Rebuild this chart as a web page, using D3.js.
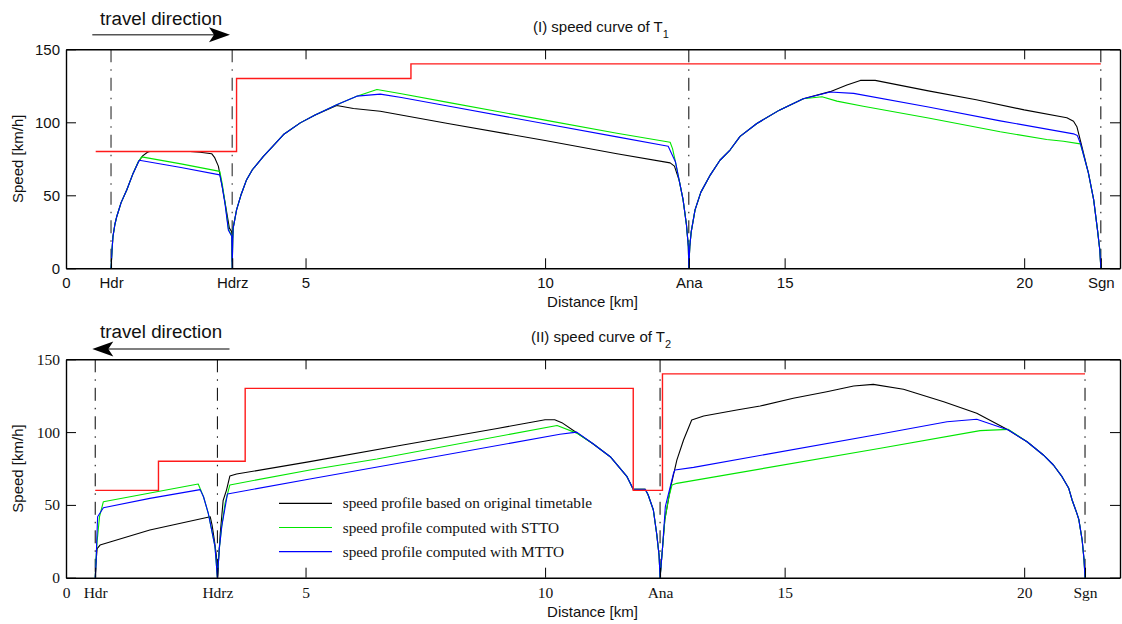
<!DOCTYPE html>
<html>
<head>
<meta charset="utf-8">
<script src="https://cdn.jsdelivr.net/npm/d3@7"></script>
<style>
  body { margin: 0; background: #fff; }
  svg { display: block; }
</style>
</head>
<body>
<svg id="chart" width="1122" height="624"></svg>
<script>
// ---------- data (distance in km, speed in km/h) ----------
const legendLabels = [
  "speed profile based on original timetable",
  "speed profile computed with STTO",
  "speed profile computed with MTTO"
];

const tickLabels = ["0", "Hdr", "Hdrz", "5", "10", "Ana", "15", "20", "Sgn"];
const tickValuesT1 = [0, 0.94, 3.47, 5, 10, 13.0, 15, 20, 21.6];
const tickValuesT2 = [0, 0.61, 3.16, 5, 10, 12.4, 15, 20, 21.27];
const speedTicks = [0, 50, 100, 150];

// speed limits, as step breakpoints [start km, limit]
const limitT1 = [[0.62, 80], [3.56, 130], [7.2, 140], [21.6, 140]];
const limitT2 = [[0.61, 60], [1.93, 80], [3.74, 130], [11.84, 60], [12.45, 140], [21.27, 140]];

// (I) T1
const originalT1 = [
  [0.94, 0], [0.96, 12], [0.98, 21.7], [1.02, 30], [1.06, 35.5], [1.15, 45], [1.27, 53.8], [1.4, 65],
  [1.51, 73], [1.6, 77], [1.7, 79.5], [1.75, 80], [2.59, 80], [2.8, 79.5], [3.04, 78.5], [3.1, 76],
  [3.18, 70], [3.25, 58], [3.32, 45], [3.41, 27.5], [3.46, 25], [3.47, 0],
  [3.48, 20], [3.49, 27.7], [3.56, 40], [3.65, 50], [3.77, 60.7], [3.89, 67.5], [4.12, 76.7], [4.3, 83],
  [4.54, 91.6], [4.89, 99.6], [5.2, 105], [5.65, 111.5], [6.0, 109.5], [6.56, 107.6], [8, 99],
  [10, 87.5], [11.5, 78.5], [12.61, 72.2], [12.7, 70], [12.8, 60], [12.88, 47], [12.95, 30],
  [12.99, 15], [13.0, 0],
  [13.02, 15], [13.05, 25], [13.13, 40], [13.25, 52], [13.45, 64], [13.65, 74], [13.86, 81],
  [14.07, 90.4], [14.42, 99.2], [14.9, 108.5], [15.39, 116.1], [15.95, 121], [16.3, 125.5],
  [16.58, 128.7], [16.89, 128.7], [18, 121.5], [19, 115.5], [20, 108.5], [20.89, 103.1],
  [21.03, 100.7], [21.1, 97], [21.2, 84], [21.34, 65.3], [21.45, 47], [21.53, 26.3], [21.58, 12], [21.6, 0]
];
const sttoT1 = [
  [0.94, 0], [0.96, 12], [0.98, 21.7], [1.02, 30], [1.06, 35.5], [1.15, 45], [1.27, 53.8], [1.4, 65],
  [1.51, 73], [1.58, 76.3], [2.4, 71.5], [3.21, 66.4], [3.26, 58], [3.32, 45], [3.39, 27], [3.46, 22], [3.47, 0],
  [3.48, 20], [3.49, 27.7], [3.56, 40], [3.65, 50], [3.77, 60.7], [3.89, 67.5], [4.12, 76.7], [4.3, 83],
  [4.54, 91.6], [4.89, 99.6], [5.2, 105], [5.65, 112], [6.07, 117.9], [6.49, 122.5], [7, 119.5],
  [8, 113.5], [10, 101.5], [11.5, 92.5], [12.61, 86.3], [12.66, 82], [12.72, 73], [12.8, 60],
  [12.88, 47], [12.95, 30], [12.99, 15], [13.0, 0],
  [13.02, 15], [13.05, 25], [13.13, 40], [13.25, 52], [13.45, 64], [13.65, 74], [13.86, 81],
  [14.07, 90.4], [14.42, 99.2], [14.9, 108.5], [15.39, 116.1], [15.78, 117.5], [16.09, 114.5],
  [16.64, 111], [18, 103], [19.5, 93.5], [20.47, 88.2], [20.82, 87], [21.17, 85.2], [21.22, 80],
  [21.34, 65.3], [21.45, 47], [21.53, 26.3], [21.58, 12], [21.6, 0]
];
const mttoT1 = [
  [0.94, 0], [0.96, 12], [0.98, 21.7], [1.02, 30], [1.06, 35.5], [1.15, 45], [1.27, 53.8], [1.4, 65],
  [1.53, 74], [2.4, 69], [3.21, 64], [3.26, 56], [3.32, 44], [3.39, 26], [3.46, 22], [3.47, 0],
  [3.48, 20], [3.49, 27.7], [3.56, 40], [3.65, 50], [3.77, 60.7], [3.89, 67.5], [4.12, 76.7], [4.3, 83],
  [4.54, 91.6], [4.89, 99.6], [5.2, 105], [5.65, 112], [6.07, 117.9], [6.56, 119.3], [7, 117],
  [8, 111], [10, 99], [11.5, 90], [12.57, 83.6], [12.62, 80], [12.72, 73], [12.8, 60],
  [12.88, 47], [12.95, 30], [12.99, 15], [13.0, 0],
  [13.02, 15], [13.05, 25], [13.13, 40], [13.25, 52], [13.45, 64], [13.65, 74], [13.86, 81],
  [14.07, 90.4], [14.42, 99.2], [14.9, 108.5], [15.39, 116.1], [15.95, 120.8], [16.44, 119.8],
  [18, 110.5], [19.5, 101], [21.03, 92.1], [21.11, 90.9], [21.18, 85], [21.22, 80],
  [21.34, 65.3], [21.45, 47], [21.53, 26.3], [21.58, 12], [21.6, 0]
];

// (II) T2
const originalT2 = [
  [0.61, 0], [0.63, 12], [0.65, 20], [0.71, 22.4], [1.75, 32.8], [3.01, 41.9], [3.05, 36], [3.1, 25],
  [3.14, 15], [3.16, 0],
  [3.19, 15], [3.22, 30.5], [3.28, 53], [3.35, 60.2], [3.42, 69.8], [3.56, 71.2], [5.09, 79.7],
  [7, 91], [9, 102.5], [10.0, 108.5], [10.2, 108.5], [10.35, 106.5], [10.66, 99.5], [11.0, 92],
  [11.36, 83.1], [11.71, 69.4], [11.84, 60.7], [12.09, 60.7], [12.15, 57], [12.26, 46.5],
  [12.33, 30], [12.38, 15], [12.4, 0],
  [12.45, 20], [12.5, 40], [12.62, 62], [12.75, 80.8], [12.89, 94.6], [13.06, 108.3], [13.31, 111.1],
  [14.0, 115.2], [14.49, 117.9], [15.18, 123.2], [15.88, 127.7], [16.44, 131.7], [16.85, 132.8],
  [17.48, 129.4], [18.32, 120.9], [19.01, 112.9], [19.67, 101.4], [20.06, 93.4], [20.4, 84.3],
  [20.61, 77.4], [20.79, 69.4], [20.93, 61.4], [21.0, 53.4], [21.1, 44.2], [21.14, 40],
  [21.21, 25.9], [21.25, 12.2], [21.27, 0]
];
const sttoT2 = [
  [0.61, 0], [0.63, 15], [0.65, 25], [0.7, 42], [0.78, 52.2], [2.76, 64.4], [2.87, 55.6], [2.97, 44.2],
  [3.04, 32.8], [3.11, 21.3], [3.16, 0],
  [3.2, 20], [3.25, 35], [3.32, 51], [3.42, 63.7], [5.09, 74], [6.49, 81.5], [10.25, 104.5],
  [10.66, 99.3], [11.0, 92], [11.36, 83.1], [11.71, 69.4], [11.84, 60.7], [12.09, 60.7], [12.15, 57],
  [12.26, 46.5], [12.33, 30], [12.38, 15], [12.4, 0],
  [12.45, 20], [12.5, 40], [12.58, 55], [12.65, 63.7], [12.75, 64.8], [17.0, 88.9], [19.08, 101],
  [19.67, 101.9], [20.06, 93.4], [20.4, 84.3], [20.61, 77.4], [20.79, 69.4], [20.93, 61.4],
  [21.0, 53.4], [21.1, 44.2], [21.14, 40], [21.21, 25.9], [21.25, 12.2], [21.27, 0]
];
const mttoT2 = [
  [0.61, 0], [0.63, 12], [0.64, 23.6], [0.66, 41.9], [0.78, 48], [1.75, 54.5], [2.8, 60.5], [2.87, 55.6],
  [2.97, 44.2], [3.04, 32.8], [3.11, 21.3], [3.16, 0],
  [3.2, 20], [3.25, 35], [3.37, 57.5], [5.09, 67.8], [7.32, 80.8], [10.31, 98.5], [10.66, 100],
  [11.0, 92], [11.36, 83.1], [11.71, 69.4], [11.84, 60.7], [12.09, 60.7], [12.15, 57], [12.26, 46.5],
  [12.33, 30], [12.38, 15], [12.4, 0],
  [12.45, 20], [12.51, 48.8], [12.68, 71.7], [12.71, 74], [13.1, 75.8], [17.0, 98.7], [18.39, 107.1],
  [19.01, 108.8], [19.67, 101.4], [20.06, 93.4], [20.4, 84.3], [20.61, 77.4], [20.79, 69.4],
  [20.93, 61.4], [21.0, 53.4], [21.1, 44.2], [21.14, 40], [21.21, 25.9], [21.25, 12.2], [21.27, 0]
];

// ---------- drawing ----------
const svg = d3.select("#chart");
const sansFont = "'Liberation Sans', Arial, sans-serif";
const serifFont = "'Liberation Serif', 'Times New Roman', serif";
const curveColors = ["#000000", "#00e600", "#0000ff"];

const x = d3.scaleLinear().domain([0, 22]).range([66, 1120]);

const drawPanel = (opts) => {
  const {top, bottom, tickValues, tickFont, tickFontSize, limit, curves, stationStyles} = opts;
  const y = d3.scaleLinear().domain([0, 150]).range([bottom, top]);
  const g = svg.append("g");

  // station lines (dash-dot)
  const stations = [tickValues[1], tickValues[2], tickValues[5], tickValues[8]];
  g.selectAll("line.station")
    .data(stations)
    .enter()
    .append("line")
    .attr("class", "station")
    .attr("x1", (d) => x(d))
    .attr("x2", (d) => x(d))
    .attr("y1", top)
    .attr("y2", bottom)
    .attr("stroke", (d, i) => stationStyles[i].color)
    .attr("stroke-width", (d, i) => stationStyles[i].width)
    .attr("stroke-dasharray", "13,7,1.5,7");

  const line = d3.line()
    .x((d) => x(d[0]))
    .y((d) => y(d[1]));

  curves.forEach((c, i) => {
    g.append("path")
      .datum(c)
      .attr("fill", "none")
      .attr("stroke", curveColors[i])
      .attr("stroke-width", 1.1)
      .attr("stroke-linejoin", "round")
      .attr("d", line);
  });

  g.append("path")
    .datum(limit)
    .attr("fill", "none")
    .attr("stroke", "#ff1a1a")
    .attr("stroke-width", 1.4)
    .attr("d", line.curve(d3.curveStepAfter));

  // axes, ticks pointing inward
  const styleAxis = (sel, font, size) => {
    sel.attr("font-family", font).attr("font-size", size);
    sel.selectAll("text").attr("fill", "#111");
    sel.select(".domain").attr("stroke-width", 1.4);
    sel.selectAll(".tick line").attr("stroke-width", 1);
  };

  g.append("g")
    .attr("transform", `translate(0, ${bottom})`)
    .call(d3.axisBottom(x)
      .tickValues(tickValues)
      .tickFormat((d, i) => tickLabels[i])
      .tickSizeInner(-10)
      .tickSizeOuter(0)
      .tickPadding(9.5))
    .call(styleAxis, tickFont, tickFontSize);

  g.append("g")
    .attr("transform", `translate(0, ${top})`)
    .call(d3.axisTop(x)
      .tickValues([5, 10, 15, 20])
      .tickFormat("")
      .tickSizeInner(-10)
      .tickSizeOuter(0))
    .call(styleAxis, tickFont, tickFontSize);

  g.append("g")
    .attr("transform", "translate(66, 0)")
    .call(d3.axisLeft(y)
      .tickValues(speedTicks)
      .tickSizeInner(-10)
      .tickSizeOuter(0)
      .tickPadding(6))
    .call(styleAxis, tickFont, tickFontSize);

  g.append("g")
    .attr("transform", "translate(1120, 0)")
    .call(d3.axisRight(y)
      .tickValues(speedTicks)
      .tickFormat("")
      .tickSizeInner(-10)
      .tickSizeOuter(0))
    .call(styleAxis, tickFont, tickFontSize);

  // axis titles
  g.append("text")
    .attr("transform", `translate(23, ${(top + bottom) / 2}) rotate(-90)`)
    .attr("text-anchor", "middle")
    .attr("font-family", sansFont)
    .attr("font-size", 15)
    .attr("fill", "#111")
    .text("Speed [km/h]");

  g.append("text")
    .attr("x", 592.5)
    .attr("y", bottom + 39)
    .attr("text-anchor", "middle")
    .attr("font-family", sansFont)
    .attr("font-size", 15)
    .attr("fill", "#111")
    .text("Distance [km]");

  return {g, y};
};

const drawTitle = (label, sub, xPos, yPos) => {
  const t = svg.append("text")
    .attr("x", xPos)
    .attr("y", yPos)
    .attr("font-family", sansFont)
    .attr("font-size", 15)
    .attr("fill", "#111");
  t.append("tspan").text(label);
  t.append("tspan").attr("dy", 6).attr("font-size", 11).text(sub);
};

const drawDirection = (yText, yArrow, toRight) => {
  svg.append("text")
    .attr("x", 100)
    .attr("y", yText)
    .attr("font-family", sansFont)
    .attr("font-size", 18.8)
    .attr("fill", "#111")
    .text("travel direction");
  const tip = toRight ? 230 : 92.3;
  const s = toRight ? -1 : 1;
  svg.append("line")
    .attr("x1", toRight ? 92.3 : 100)
    .attr("x2", toRight ? 222 : 229.5)
    .attr("y1", yArrow)
    .attr("y2", yArrow)
    .attr("stroke", "#555")
    .attr("stroke-width", 1.6);
  svg.append("path")
    .attr("d", `M${tip},${yArrow} L${tip + s * 21},${yArrow - 7.5} L${tip + s * 16},${yArrow} L${tip + s * 21},${yArrow + 7.5} Z`)
    .attr("fill", "#000");
};

// (I)
drawTitle("(I) speed curve of T", "1", 533, 31.7);
drawDirection(25, 34.7, true);
drawPanel({
  top: 49.3,
  bottom: 268.3,
  tickValues: tickValuesT1,
  tickFont: sansFont,
  tickFontSize: 15,
  limit: limitT1,
  curves: [originalT1, sttoT1, mttoT1],
  stationStyles: [
    {color: "#666", width: 1.5},
    {color: "#666", width: 1.5},
    {color: "#000", width: 1},
    {color: "#000", width: 1}
  ]
});

// (II)
drawTitle("(II) speed curve of T", "2", 531, 341.5);
drawDirection(338, 349, false);
const panel2 = drawPanel({
  top: 359.3,
  bottom: 577.7,
  tickValues: tickValuesT2,
  tickFont: serifFont,
  tickFontSize: 15.5,
  limit: limitT2,
  curves: [originalT2, sttoT2, mttoT2],
  stationStyles: [
    {color: "#000", width: 1},
    {color: "#000", width: 1},
    {color: "#000", width: 1},
    {color: "#000", width: 1}
  ]
});

// legend (bottom panel)
const legendY = [503.3, 527.5, 551.7];
const legend = panel2.g.selectAll("g.legend")
  .data(legendLabels)
  .enter()
  .append("g")
  .attr("class", "legend")
  .attr("transform", (d, i) => `translate(279, ${legendY[i]})`);
legend.append("line")
  .attr("x1", 0)
  .attr("x2", 53)
  .attr("stroke", (d, i) => curveColors[i])
  .attr("stroke-width", 1.2);
legend.append("text")
  .attr("x", 63.7)
  .attr("y", 5)
  .attr("font-family", serifFont)
  .attr("font-size", 15.3)
  .attr("fill", "#111")
  .text((d) => d);
</script>
</body>
</html>
